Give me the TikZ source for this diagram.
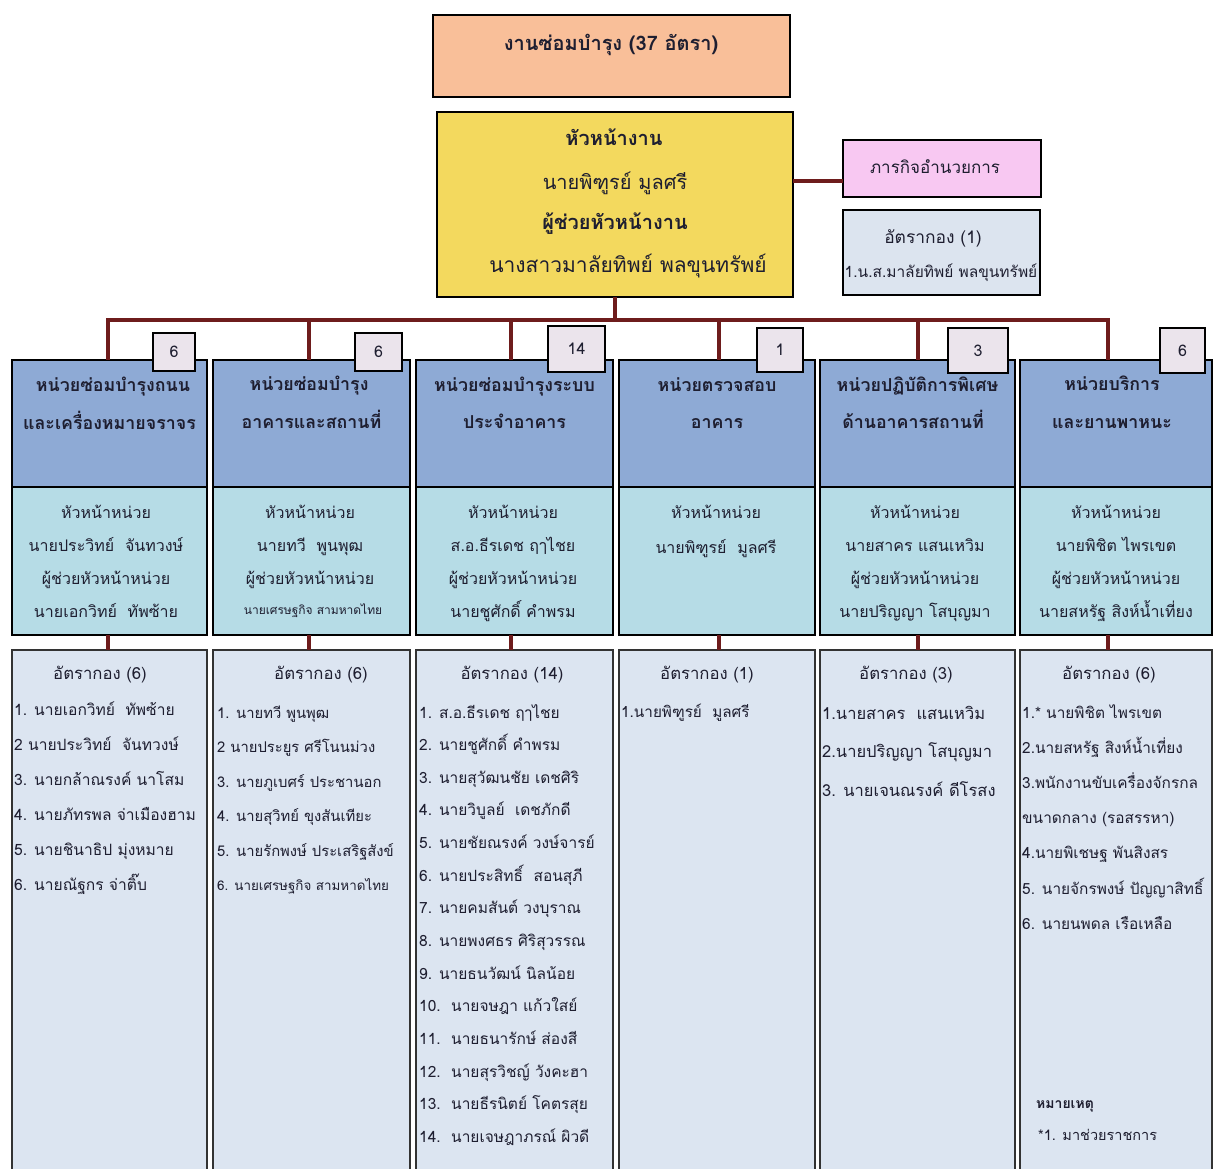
\documentclass[tikz,border=0pt]{standalone}
\usepackage{fontspec}
\setmainfont[Script=Thai]{Loma}
\definecolor{peach}{HTML}{F9BF99}
\definecolor{headyel}{HTML}{F3D95E}
\definecolor{pinkbox}{HTML}{F8C8F2}
\definecolor{palebox}{HTML}{DCE4EF}
\definecolor{hdrblue}{HTML}{8EAAD5}
\definecolor{infoaqua}{HTML}{B6DCE6}
\definecolor{listbg}{HTML}{DCE5F1}
\definecolor{badgebg}{HTML}{EBE4EC}
\definecolor{linkred}{HTML}{6E1C1C}
\definecolor{ink}{HTML}{1E1E30}
\newcommand\fsz[1]{\fontsize{#1}{#1}\selectfont}
\begin{document}
\begin{tikzpicture}[x=1pt,y=-1pt,
  box/.style={draw=black, line width=2pt, inner sep=0pt, outer sep=0pt, anchor=north west},
  badge/.style={box, fill=badgebg, font=\fsz{16}, text=ink},
  link/.style={draw=linkred, line width=4.5pt},
  ttl/.style={anchor=base, inner sep=0pt, text=ink, font=\fsz{20}\bfseries},
  hd/.style={anchor=base, inner sep=0pt, text=ink, font=\fsz{17.8}\bfseries},
  inf/.style={anchor=base, inner sep=0pt, text=ink, font=\fsz{16}},
  rate/.style={anchor=base, inner sep=0pt, text=ink, font=\fsz{16.7}},
  item/.style={anchor=base west, inner sep=0pt, text=ink, font=\fsz{15.5}}]
\useasboundingbox (0,0) rectangle (1217,1168);

\coordinate (lnk) at (0,181);
\coordinate (bus) at (0,320);
% x positions of the drop lines
\coordinate (d1) at (108,0);
\coordinate (d2) at (309,0);
\coordinate (d3) at (511,0);
\coordinate (d4) at (719,0);
\coordinate (d5) at (918,0);
\coordinate (d6) at (1108,0);

% ---------- top boxes ----------
\node[box, line width=2.5pt, fill=peach, minimum width=357, minimum height=82] (unit) at (433,15) {};
\node[box, line width=2.5pt, fill=headyel, minimum width=356, minimum height=185] (head) at (437,112) {};
\node[box, fill=pinkbox, minimum width=198, minimum height=57] (admin) at (843,140) {};
\node[box, fill=palebox, minimum width=197, minimum height=85] (adminrate) at (843,210) {};

\draw[link] (head.east |- lnk) -- (admin.west |- lnk);

\node[ttl] (unitT) at (611,50) {งานซ่อมบำรุง (37 อัตรา)};
\node[ttl] (headT1) at (614,145) {หัวหน้างาน};
\node[ttl, font=\fsz{20}] (headT2) at (615,189) {นายพิฑูรย์ มูลศรี};
\node[ttl] (headT3) at (615,229) {ผู้ช่วยหัวหน้างาน};
\node[ttl, font=\fsz{21}] (headT4) at (628,272) {นางสาวมาลัยทิพย์ พลขุนทรัพย์};

\node[inf, font=\fsz{17}] (adminT) at (935,173) {ภารกิจอำนวยการ};
\node[inf, font=\fsz{17.4}] (adminrateT1) at (933,243) {อัตรากอง (1)};
\node[inf, font=\fsz{15.5}] (adminrateT2) at (941,277) {1.น.ส.มาลัยทิพย์ พลขุนทรัพย์};

% ---------- unit columns: header / chief / staff list ----------
\node[box, fill=hdrblue,  minimum width=195, minimum height=127] (hdr1) at (12,360) {};
\node[box, fill=infoaqua, minimum width=195, minimum height=148] (inf1) at (12,487) {};
\node[box, draw=black!80, fill=listbg, minimum width=195, minimum height=540] (lst1) at (12,650) {};
\node[box, fill=hdrblue,  minimum width=197, minimum height=127] (hdr2) at (213,360) {};
\node[box, fill=infoaqua, minimum width=197, minimum height=148] (inf2) at (213,487) {};
\node[box, draw=black!80, fill=listbg, minimum width=197, minimum height=540] (lst2) at (213,650) {};
\node[box, fill=hdrblue,  minimum width=197, minimum height=127] (hdr3) at (416,360) {};
\node[box, fill=infoaqua, minimum width=197, minimum height=148] (inf3) at (416,487) {};
\node[box, draw=black!80, fill=listbg, minimum width=197, minimum height=540] (lst3) at (416,650) {};
\node[box, fill=hdrblue,  minimum width=196, minimum height=127] (hdr4) at (619,360) {};
\node[box, fill=infoaqua, minimum width=196, minimum height=148] (inf4) at (619,487) {};
\node[box, draw=black!80, fill=listbg, minimum width=196, minimum height=540] (lst4) at (619,650) {};
\node[box, fill=hdrblue,  minimum width=195, minimum height=127] (hdr5) at (820,360) {};
\node[box, fill=infoaqua, minimum width=195, minimum height=148] (inf5) at (820,487) {};
\node[box, draw=black!80, fill=listbg, minimum width=195, minimum height=540] (lst5) at (820,650) {};
\node[box, fill=hdrblue,  minimum width=192, minimum height=127] (hdr6) at (1020,360) {};
\node[box, fill=infoaqua, minimum width=192, minimum height=148] (inf6) at (1020,487) {};
\node[box, draw=black!80, fill=listbg, minimum width=192, minimum height=540] (lst6) at (1020,650) {};

% ---------- bus and drops ----------
\draw[link] (head.south) -- (head.south |- bus);
\draw[link, line cap=rect] (d1 |- bus) -- (d6 |- bus);
\foreach \k in {1,...,6} {
  \draw[link] (d\k |- bus) -- (d\k |- hdr\k.north);
  \draw[link] (d\k |- inf\k.south) -- (d\k |- lst\k.north);
}

% ---------- head-count badges ----------
\node[badge, minimum width=42, minimum height=38] (bdg1) at (153,333) {6};
\node[badge, minimum width=47, minimum height=38] (bdg2) at (355,333) {6};
\node[badge, minimum width=57, minimum height=46] (bdg3) at (548,326) {14};
\node[badge, minimum width=46, minimum height=44] (bdg4) at (757,328) {1};
\node[badge, minimum width=60, minimum height=45] (bdg5) at (948,328) {3};
\node[badge, minimum width=45, minimum height=45] (bdg6) at (1160,328) {6};

% ---------- header titles ----------
\node[hd] (h1a) at (113,391) {หน่วยซ่อมบำรุงถนน};
\node[hd] (h1b) at (109.5,429) {และเครื่องหมายจราจร};
\node[hd] (h2a) at (309,390) {หน่วยซ่อมบำรุง};
\node[hd] (h2b) at (311.5,428) {อาคารและสถานที่};
\node[hd] (h3a) at (514.5,391) {หน่วยซ่อมบำรุงระบบ};
\node[hd] (h3b) at (514.5,428) {ประจำอาคาร};
\node[hd] (h4a) at (717,391) {หน่วยตรวจสอบ};
\node[hd] (h4b) at (717,428) {อาคาร};
\node[hd] (h5a) at (917.5,391) {หน่วยปฏิบัติการพิเศษ};
\node[hd] (h5b) at (913,428) {ด้านอาคารสถานที่};
\node[hd] (h6a) at (1112,390) {หน่วยบริการ};
\node[hd] (h6b) at (1112,428) {และยานพาหนะ};

% ---------- chiefs ----------
\foreach \t [count=\i] in {หัวหน้าหน่วย, นายประวิทย์\ \ จันทวงษ์, ผู้ช่วยหัวหน้าหน่วย, นายเอกวิทย์\ \ ทัพซ้าย}
  \node[inf] (c1-\i) at ({106},{518+(\i-1)*33}) {\t};
\foreach \t [count=\i] in {หัวหน้าหน่วย, นายทวี\ \ พูนพุฒ, ผู้ช่วยหัวหน้าหน่วย}
  \node[inf] (c2-\i) at ({310},{518+(\i-1)*33}) {\t};
\node[inf, font=\fsz{12}] (c2-4) at (313,614) {นายเศรษฐกิจ สามหาดไทย};
\foreach \t [count=\i] in {หัวหน้าหน่วย, ส.อ.ธีรเดช ฤๅไชย, ผู้ช่วยหัวหน้าหน่วย, นายชูศักดิ์ คำพรม}
  \node[inf] (c3-\i) at ({513},{518+(\i-1)*33}) {\t};
\foreach \t [count=\i] in {หัวหน้าหน่วย, นายพิฑูรย์\ \ มูลศรี}
  \node[inf] (c4-\i) at ({716},{518+(\i-1)*35}) {\t};
\foreach \t [count=\i] in {หัวหน้าหน่วย, นายสาคร แสนเหวิม, ผู้ช่วยหัวหน้าหน่วย, นายปริญญา โสบุญมา}
  \node[inf] (c5-\i) at ({915},{518+(\i-1)*33}) {\t};
\foreach \t [count=\i] in {หัวหน้าหน่วย, นายพิชิต ไพรเขต, ผู้ช่วยหัวหน้าหน่วย, นายสหรัฐ สิงห์น้ำเที่ยง}
  \node[inf] (c6-\i) at ({1116},{518+(\i-1)*33}) {\t};

% ---------- staff lists ----------
\node[rate] (r1) at (100,679) {อัตรากอง (6)};
\foreach \t [count=\i] in {1. นายเอกวิทย์\ \ ทัพซ้าย, 2 นายประวิทย์\ \ จันทวงษ์, 3. นายกล้าณรงค์ นาโสม, 4. นายภัทรพล จ่าเมืองฮาม, 5. นายชินาธิป มุ่งหมาย, 6. นายณัฐกร จ่าติ๊บ}
  \node[item, font=\fsz{15.6}] (m1-\i) at ({14},{715+(\i-1)*35}) {\t};

\node[rate] (r2) at (321,679) {อัตรากอง (6)};
\foreach \t [count=\i] in {1. นายทวี พูนพุฒ, 2 นายประยูร ศรีโนนม่วง, 3. นายภูเบศร์ ประชานอก, 4. นายสุวิทย์ ขุงสันเทียะ, 5. นายรักพงษ์ ประเสริฐสังข์}
  \node[item, font=\fsz{14.8}] (m2-\i) at ({217},{718+(\i-1)*34.5}) {\t};
\node[item, font=\fsz{13.4}] (m2-6) at (217,890) {6. นายเศรษฐกิจ สามหาดไทย};

\node[rate] (r3) at (512,679) {อัตรากอง (14)};
\foreach \t [count=\i] in {1. ส.อ.ธีรเดช ฤๅไชย, 2. นายชูศักดิ์ คำพรม, 3. นายสุวัฒนชัย เดชศิริ, 4. นายวิบูลย์\ \ เดชภักดี, 5. นายชัยณรงค์ วงษ์จารย์, 6. นายประสิทธิ์\ \ สอนสุภี, 7. นายคมสันต์ วงบุราณ, 8. นายพงศธร ศิริสุวรรณ, 9. นายธนวัฒน์ นิลน้อย, 10.\ \ นายจษฎา แก้วใสย์, 11.\ \ นายธนารักษ์ ส่องสี, 12.\ \ นายสุรวิชญ์ วังคะฮา, 13.\ \ นายธีรนิตย์ โคตรสุย, 14.\ \ นายเจษฎาภรณ์ ผิวดี}
  \node[item] (m3-\i) at ({419},{718+(\i-1)*32.65}) {\t};

\node[rate] (r4) at (707,679) {อัตรากอง (1)};
\node[item, font=\fsz{15.3}] (m4-1) at (621,717) {1.นายพิฑูรย์\ \ มูลศรี};

\node[rate] (r5) at (906,679) {อัตรากอง (3)};
\foreach \t [count=\i] in {1.นายสาคร\ \ แสนเหวิม, 2.นายปริญญา โสบุญมา, 3. นายเจนณรงค์ ดีโรสง}
  \node[item, font=\fsz{16.5}] (m5-\i) at ({822},{719+(\i-1)*38.5}) {\t};

\node[rate] (r6) at (1109,679) {อัตรากอง (6)};
\foreach \t [count=\i] in {1.* นายพิชิต ไพรเขต, 2.นายสหรัฐ สิงห์น้ำเที่ยง, 3.พนักงานขับเครื่องจักรกล, ขนาดกลาง (รอสรรหา), 4.นายพิเชษฐ พันสิงสร, 5. นายจักรพงษ์ ปัญญาสิทธิ์, 6. นายนพดล เรือเหลือ}
  \node[item, font=\fsz{15.4}] (m6-\i) at ({1022},{718+(\i-1)*35.2}) {\t};

\node[item, font=\fsz{14}\bfseries] (note1) at (1036,1108) {หมายเหตุ};
\node[item, font=\fsz{14.5}] (note2) at (1038,1140) {*1. มาช่วยราชการ};
\end{tikzpicture}
\end{document}
